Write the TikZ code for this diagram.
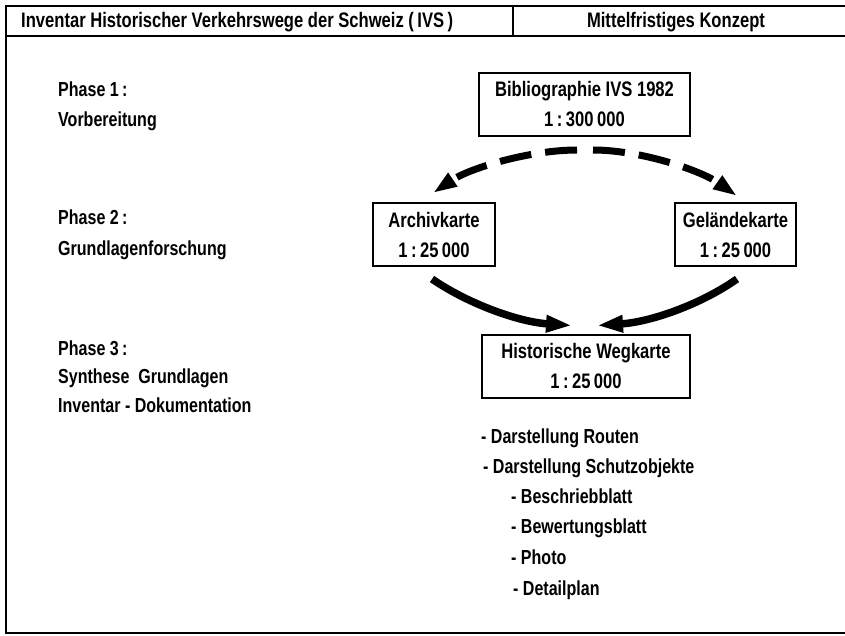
\documentclass[tikz,border=0pt]{standalone}
\usepackage{fontspec}
\setmainfont{Liberation Sans}[FakeStretch=0.79, UprightFont=* Bold]
\usetikzlibrary{arrows.meta}

\begin{document}
\begin{tikzpicture}[x=1pt, y=-1pt,
  frame/.style={line width=2.4pt},
  card/.style={draw, line width=2pt, minimum width=#1, minimum height=63pt,
    inner sep=0pt, align=center, font=\fontsize{21}{30}\selectfont},
  lbl/.style={anchor=base west, inner sep=0pt, font=\fontsize{20.3}{22}\selectfont},
  hdr/.style={inner sep=0pt, font=\fontsize{21}{22}\selectfont},
  dasharrow/.style={line width=7pt, dash pattern=on 32pt off 14pt,
    -{Triangle[length=24pt, width=15pt]}},
  solidarrow/.style={line width=7.5pt, -{Triangle[length=26pt, width=16pt]}}
]
\useasboundingbox (0,0) rectangle (845,636);

% frame and header row
\draw[frame] (845,6) -- (6,6) -- (6,633) -- (845,633);
\draw[frame] (6,36) -- (845,36);
\draw[frame] (513,6) -- (513,36);
\node[hdr, anchor=base west] (title) at (21,28)
  {Inventar Historischer Verkehrswege der Schweiz (\,IVS\,)};
\node[hdr, anchor=base] (concept) at (676,28) {Mittelfristiges Konzept};

% phase labels
\node[lbl] (p1) at (58,97) {Phase 1\,:};
\node[lbl] (p1t) at (58,127) {Vorbereitung};
\node[lbl] (p2) at (58,225) {Phase 2\,:};
\node[lbl] (p2t) at (58,255) {Grundlagenforschung};
\node[lbl] (p3) at (58,355) {Phase 3\,:};
\node[lbl] (p3a) at (58,383) {Synthese\ \ Grundlagen};
\node[lbl] (p3b) at (58,412) {Inventar - Dokumentation};

% map cards
\node[card=211pt] (bib) at (584.5,104.5) {Bibliographie IVS 1982\\1\,:\,300\,000};
\node[card=122pt] (arch) at (434,234.5) {Archivkarte\\1\,:\,25\,000};
\node[card=121pt] (gel) at (735.5,234.5) {Geländekarte\\1\,:\,25\,000};
\node[card=208pt] (hist) at (586,366) {Historische Wegkarte\\1\,:\,25\,000};

% dashed split from the bibliography
\coordinate (apex) at (585,150);
\draw[dasharrow] ([shift={(-8,0)}]apex) .. controls (530,150) and (470,168)
  .. ([shift={(-1,-9)}]arch.north);
\draw[dasharrow] ([shift={(8,0)}]apex) .. controls (640,150) and (700,170)
  .. ([shift={(1.5,-6)}]gel.north);

% both field maps merge into the historical map
\draw[solidarrow] ([shift={(-2,12)}]arch.south) .. controls (470,305) and (520,322)
  .. ([shift={(-14,-8)}]hist.north);
\draw[solidarrow] ([shift={(1.5,12)}]gel.south) .. controls (700,305) and (650,322)
  .. ([shift={(11,-8)}]hist.north);

% contents of the historical map
\node[lbl] (l1) at (481,443) {- Darstellung Routen};
\node[lbl] (l2) at (483,473) {- Darstellung Schutzobjekte};
\node[lbl] (l3) at (511,503) {- Beschriebblatt};
\node[lbl] (l4) at (511,533) {- Bewertungsblatt};
\node[lbl] (l5) at (511,564) {- Photo};
\node[lbl] (l6) at (513,595) {- Detailplan};
\end{tikzpicture}
\end{document}
